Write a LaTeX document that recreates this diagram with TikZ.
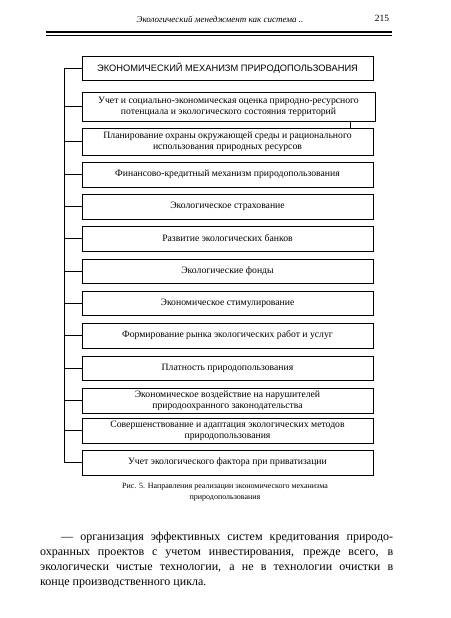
\documentclass[tikz,border=0pt]{standalone}
\usepackage{fontspec}
\setmainfont{Liberation Serif}
\newfontfamily\sansf{Liberation Sans}
\begin{document}
\begin{tikzpicture}[x=1pt,y=-1pt,
  box/.style={draw,line width=0.8pt,minimum width=291pt,inner sep=0pt,align=center,
    font=\fontsize{9.7}{11}\selectfont},
  conn/.style={line width=0.8pt}]
\useasboundingbox (0,0) rectangle (450,618);
% header
\node[font=\fontsize{9}{11}\selectfont\itshape] (hdr) at (220,19) {Экологический менеджмент как система ..};
\node[font=\fontsize{9.5}{11}\selectfont] (pg) at (382,18) {215};
\coordinate (hl1) at (46,32); \coordinate (hr1) at (392,32);
\coordinate (hl2) at (46,35.5); \coordinate (hr2) at (392,35.5);
\draw[line width=1.6pt] (hl1) -- (hr1);
\draw[line width=0.6pt] (hl2) -- (hr2);
% title
\node[box,minimum height=24pt,font=\sansf\fontsize{9.3}{11}\selectfont] (t) at (227.5,68) {ЭКОНОМИЧЕСКИЙ МЕХАНИЗМ ПРИРОДОПОЛЬЗОВАНИЯ};
% boxes
\node[box,minimum height=29pt,minimum width=293pt] (b1) at (228.5,106.5) {Учет и социально-экономическая оценка природно-ресурсного\\потенциала и экологического состояния территорий};
\node[box,minimum height=27pt] (b2) at (227.5,141.5) {Планирование охраны окружающей среды и рационального\\использования природных ресурсов};
\node[box,minimum height=25pt] (b3) at (227.5,174.5) {Финансово-кредитный механизм природопользования};
\node[box,minimum height=25pt] (b4) at (227.5,206.5) {Экологическое страхование};
\node[box,minimum height=25pt] (b5) at (227.5,238.5) {Развитие экологических банков};
\node[box,minimum height=24pt] (b6) at (227.5,271) {Экологические фонды};
\node[box,minimum height=24pt] (b7) at (227.5,303) {Экономическое стимулирование};
\node[box,minimum height=25pt] (b8) at (227.5,335.5) {Формирование рынка экологических работ и услуг};
\node[box,minimum height=24pt] (b9) at (227.5,368) {Платность природопользования};
\node[box,minimum height=25pt] (b10) at (227.5,400.5) {Экономическое воздействие на нарушителей\\природоохранного законодательства};
\node[box,minimum height=25pt] (b11) at (227.5,430.5) {Совершенствование и адаптация экологических методов\\природопользования};
\node[box,minimum height=25pt] (b12) at (227.5,462.5) {Учет экологического фактора при приватизации};
% spine
\coordinate (sp) at (64,68);
\draw[conn] (t.west) -- (sp) |- (b12.west);
\foreach \b in {b1,b2,b3,b4,b5,b6,b7,b8,b9,b10,b11}{
  \draw[conn] (\b.west) -- (\b.west -| sp);
}
\coordinate (k1) at (350,0);
\draw[conn] (b1.south -| k1) -- (b2.north -| k1);
% caption
\node[font=\fontsize{8}{11.5}\selectfont,align=center] (cap) at (225,492) {Рис. 5. Направления реализации экономического механизма\\природопользования};
% body
\node[anchor=north west,inner sep=0pt,text width=353pt,align=justify,
  font=\fontsize{12}{15}\selectfont] (body) at (40,532)
{\hspace*{21pt}— организация эффективных систем кредитования природо-\linebreak охранных проектов с учетом инвестирования, прежде всего, в\linebreak экологически чистые технологии, а не в технологии очистки в\linebreak конце производственного цикла.};
\end{tikzpicture}
\end{document}
